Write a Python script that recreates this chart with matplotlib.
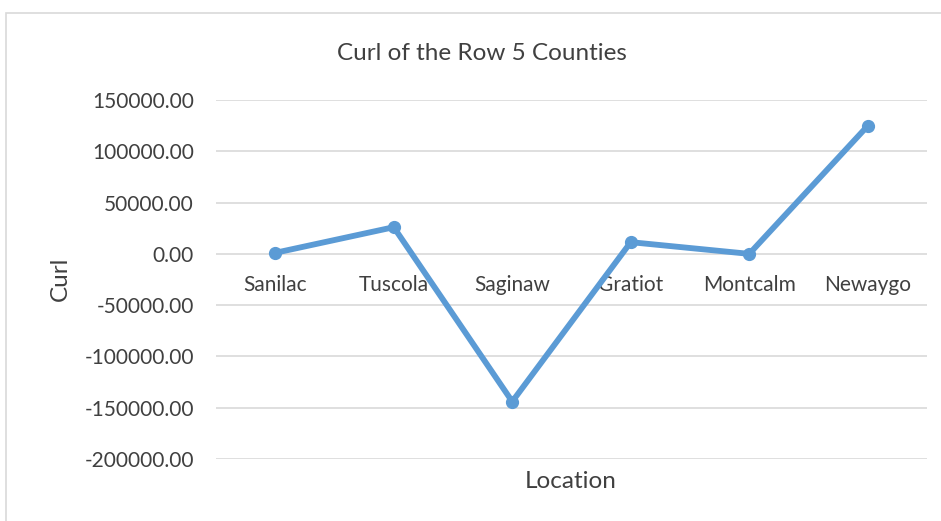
import matplotlib
matplotlib.use("Agg")
import matplotlib.pyplot as plt
from matplotlib.patches import Rectangle

counties = ["Sanilac", "Tuscola", "Saginaw", "Gratiot", "Montcalm", "Newaygo"]
curl = [1000, 26000, -144000, 11400, 0, 124800]
y_ticks = [150000, 100000, 50000, 0, -50000, -100000, -150000, -200000]

plt.rcParams["font.family"] = ["Lato", "DejaVu Sans"]
text_color = "#404040"
line_color = "#5B9BD5"
grid_color = "#D9D9D9"

fig = plt.figure(figsize=(9.41, 5.21), dpi=100)
fig.patch.set_facecolor("white")

# chart area border
fig.patches.append(Rectangle((6 / 941, -0.05), 1.0, 1 - 13 / 521 + 0.05,
                             transform=fig.transFigure, fill=False,
                             edgecolor=grid_color, linewidth=1.2))

ax = fig.add_axes([216 / 941, 1 - 459 / 521, (927 - 216) / 941, (459 - 100) / 521])
x = list(range(len(counties)))
ax.plot(x, curl, color=line_color, linewidth=4.2, marker="o", markersize=8.5,
        solid_capstyle="round", zorder=3)

ax.spines["bottom"].set_position(("data", 0))
ax.spines["bottom"].set_visible(False)
for side in ["top", "left", "right"]:
    ax.spines[side].set_visible(False)

ax.set_xlim(-0.5, len(counties) - 0.5)
ax.set_ylim(-200000, 150000)
ax.set_yticks(y_ticks)
ax.set_yticklabels([f"{v:.2f}" for v in y_ticks], fontsize=15, color=text_color)
ax.yaxis.grid(True, color=grid_color, linewidth=1.2)
ax.set_axisbelow(True)

ax.set_xticks(x)
ax.set_xticklabels(counties, fontsize=15, color=text_color)
ax.tick_params(axis="x", length=0, pad=15)
ax.tick_params(axis="y", length=0, pad=16)

fig.text(482 / 941, 1 - 54 / 521, "Curl of the Row 5 Counties", fontsize=17.5,
         color=text_color, ha="center", va="center")
fig.text(571 / 941, 1 - 481 / 521, "Location", fontsize=17.5, color=text_color,
         ha="center", va="center")
fig.text(60 / 941, 1 - 279 / 521, "Curl", fontsize=17.5, color=text_color,
         ha="center", va="center", rotation=90)

fig.savefig("out.png", dpi=100)
